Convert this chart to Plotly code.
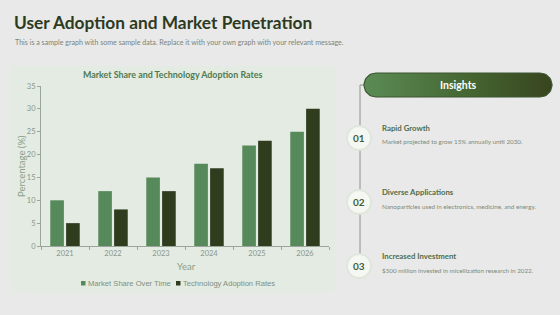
import numpy as np
import plotly.graph_objects as go

years = ["2021", "2022", "2023", "2024", "2025", "2026"]
market_share = [10, 12, 15, 18, 22, 25]
tech_adoption = [5, 8, 12, 17, 23, 30]
series_names = ["Market Share Over Time", "Technology Adoption Rates"]
series_colors = ["#578a5b", "#2f3c1e"]

title = "User Adoption and Market Penetration"
subtitle = "This is a sample graph with some sample data. Replace it with your own graph with your relevant message."
chart_title = "Market Share and Technology Adoption Rates"
insight_heads = ["Rapid Growth", "Diverse Applications", "Increased Investment"]
insight_texts = [
    "Market projected to grow 15% annually until 2030.",
    "Nanoparticles used in electronics, medicine, and energy.",
    "$500 million invested in micellization research in 2022.",
]
insight_nums = ["01", "02", "03"]

W, H = 560, 315
def px(x):
    return x / W
def py(y):
    return 1 - y / H

FONT = "Lato"
fig = go.Figure()
fig.add_trace(go.Bar(x=years, y=market_share, name=series_names[0], showlegend=False,
                     marker=dict(color=series_colors[0], line=dict(width=0))))
fig.add_trace(go.Bar(x=years, y=tech_adoption, name=series_names[1], showlegend=False,
                     marker=dict(color=series_colors[1], line=dict(width=0))))

# pill with gradient on a pixel overlay axis
x0, x1, y0, y1 = 364, 552, 73, 97
r = (y1 - y0) / 2
t = np.linspace(-np.pi / 2, np.pi / 2, 24)
rx = list(x1 - r + r * np.cos(t)) + list(x0 + r - r * np.cos(t))
ry = list((y0 + y1) / 2 + r * np.sin(t)) + list((y0 + y1) / 2 - r * np.sin(t))
fig.add_trace(go.Scatter(x=rx + [rx[0]], y=ry + [ry[0]], xaxis="x2", yaxis="y2",
                         mode="lines", fill="toself",
                         line=dict(color="#3d5632", width=1.2),
                         fillgradient=dict(type="horizontal",
                                           colorscale=[[0, "#5b8c55"], [0.6, "#44632f"], [1, "#38441f"]]),
                         showlegend=False, hoverinfo="skip"))

def rounded_rect(xa, ya, xb, yb, rad):
    X0, X1 = px(xa), px(xb)
    Y0, Y1 = py(yb), py(ya)
    rx_ = rad / W
    ry_ = rad / H
    return (f"M {X0+rx_},{Y0} L {X1-rx_},{Y0} Q {X1},{Y0} {X1},{Y0+ry_} "
            f"L {X1},{Y1-ry_} Q {X1},{Y1} {X1-rx_},{Y1} L {X0+rx_},{Y1} "
            f"Q {X0},{Y1} {X0},{Y1-ry_} L {X0},{Y0+ry_} Q {X0},{Y0} {X0+rx_},{Y0} Z")

shapes = []
# chart panel
shapes.append(dict(type="path", xref="paper", yref="paper", path=rounded_rect(10, 66, 335, 293, 7),
                   fillcolor="#e4ebe3", line=dict(width=0), layer="below"))
# timeline line
shapes.append(dict(type="line", xref="paper", yref="paper", x0=px(360), x1=px(360), y0=py(85), y1=py(266),
                   line=dict(color="#8a948a", width=1), layer="below"))
shapes.append(dict(type="line", xref="paper", yref="paper", x0=px(360), x1=px(366), y0=py(85), y1=py(85),
                   line=dict(color="#8a948a", width=1), layer="below"))
cys = [138, 202, 266]
for cy in cys:
    shapes.append(dict(type="circle", xref="paper", yref="paper", x0=px(346), x1=px(372), y0=py(cy + 13), y1=py(cy - 13),
                       fillcolor="#dfe7dc", line=dict(width=0), layer="below"))
    shapes.append(dict(type="circle", xref="paper", yref="paper", x0=px(348), x1=px(370), y0=py(cy + 11), y1=py(cy - 11),
                       fillcolor="#f5f7f3", line=dict(width=0), layer="below"))

ann = []
ann.append(dict(text="<b>" + title + "</b>", x=px(12), y=py(23), xref="paper", yref="paper", xanchor="left",
                yanchor="middle", showarrow=False, font=dict(family=FONT, size=17.3, color="#2d3a22")))
ann.append(dict(text=subtitle, x=px(13), y=py(43), xref="paper", yref="paper", xanchor="left",
                yanchor="middle", showarrow=False, font=dict(family=FONT, size=7.1, color="#7b857a")))
ann.append(dict(text="<b>" + chart_title + "</b>", x=px(172), y=py(74), xref="paper", yref="paper",
                xanchor="center", yanchor="middle", showarrow=False, font=dict(family=FONT, size=8.9, color="#4f7a4f")))
ann.append(dict(text="Percentage (%)", x=px(21), y=py(166), xref="paper", yref="paper", textangle=-90,
                xanchor="center", yanchor="middle", showarrow=False, font=dict(family=FONT, size=9.5, color="#8aa088")))
ann.append(dict(text="Year", x=px(186), y=py(266), xref="paper", yref="paper",
                xanchor="center", yanchor="middle", showarrow=False, font=dict(family=FONT, size=9.5, color="#8aa088")))
ann.append(dict(text="<b>Insights</b>", x=px(458), y=py(85), xref="paper", yref="paper",
                xanchor="center", yanchor="middle", showarrow=False, font=dict(family=FONT, size=10.5, color="#ffffff")))
for i, cy in enumerate(cys):
    ann.append(dict(text="<b>" + insight_nums[i] + "</b>", x=px(359), y=py(cy), xref="paper", yref="paper",
                    xanchor="center", yanchor="middle", showarrow=False, font=dict(family=FONT, size=10, color="#3f5e38")))
    ann.append(dict(text="<b>" + insight_heads[i] + "</b>", x=px(380), y=py(cy - 10), xref="paper", yref="paper",
                    xanchor="left", yanchor="middle", showarrow=False, font=dict(family=FONT, size=7.8, color="#4f6e4b")))
    ann.append(dict(text=insight_texts[i], x=px(380), y=py(cy + 4), xref="paper", yref="paper",
                    xanchor="left", yanchor="middle", showarrow=False, font=dict(family=FONT, size=6.3, color="#7c8a7a")))

# custom legend
leg_x = [81, 176]
for i, name in enumerate(series_names):
    shapes.append(dict(type="rect", xref="paper", yref="paper", x0=px(leg_x[i]), x1=px(leg_x[i] + 4.5),
                       y0=py(285.5), y1=py(281), fillcolor=series_colors[i], line=dict(width=0)))
    ann.append(dict(text=name, x=px(leg_x[i] + 5), y=py(283), xref="paper", yref="paper",
                    xanchor="left", yanchor="middle", showarrow=False,
                    font=dict(family="Liberation Sans", size=7.6, color="#7f8f7d")))

fig.update_layout(
    width=W, height=H, margin=dict(l=0, r=0, t=0, b=0),
    paper_bgcolor="#e9e9e9", plot_bgcolor="rgba(0,0,0,0)",
    barmode="group", bargap=0.34, bargroupgap=0.14,
    font=dict(family=FONT, color="#8a9688"),
    xaxis=dict(domain=[px(41), px(329)], anchor="y", showgrid=False, showline=True, linecolor="#9aa69a",
               linewidth=1, ticks="outside", tickson="boundaries", ticklen=3, tickcolor="#9aa69a",
               tickfont=dict(size=7.5, color="#8a9688"), automargin=False),
    yaxis=dict(domain=[py(246), py(86)], anchor="x", range=[0, 35], dtick=5, showgrid=False, showline=True,
               linecolor="#9aa69a", linewidth=1, ticks="outside", ticklen=3, tickcolor="#9aa69a",
               tickfont=dict(size=7.5, color="#8a9688"), zeroline=False, automargin=False),
    xaxis2=dict(domain=[0, 1], anchor="y2", range=[0, W], visible=False, fixedrange=True),
    yaxis2=dict(domain=[0, 1], anchor="x2", range=[H, 0], visible=False, fixedrange=True),
    shapes=shapes, annotations=ann, showlegend=False,
)
fig.write_html("out.html")
